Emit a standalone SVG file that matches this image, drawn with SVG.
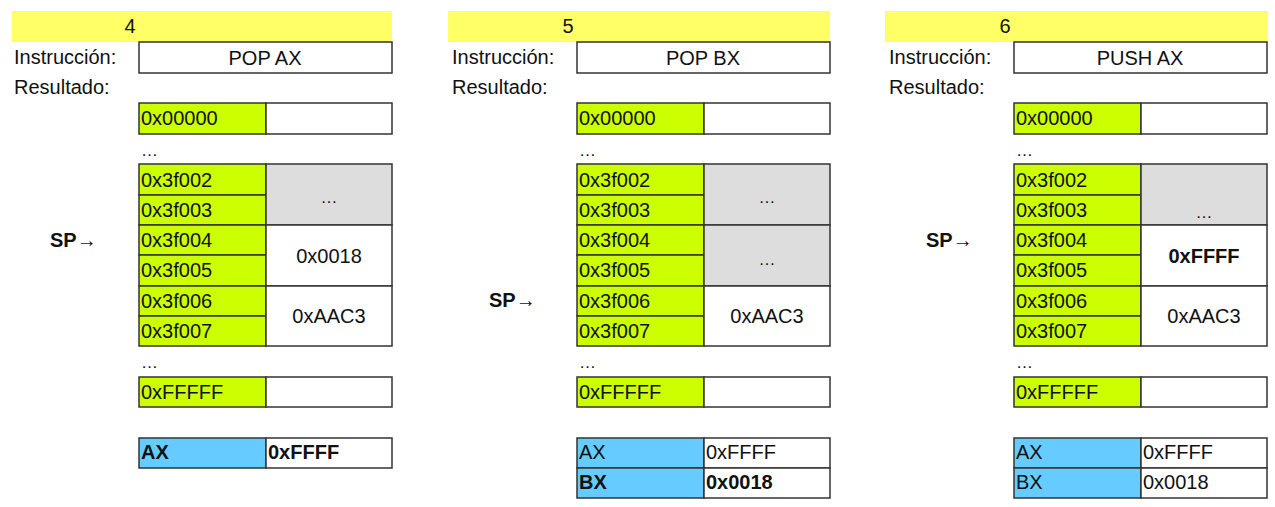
<svg xmlns="http://www.w3.org/2000/svg" width="1275" height="507" viewBox="0 0 1275 507">
<style>
text{font-family:"Liberation Sans",Arial,sans-serif;font-size:20px;fill:#111}
.b{font-weight:bold}
.m{text-anchor:middle}
.hd{fill:#ffff66}
.box{fill:#fff;stroke:#333;stroke-width:1.5}
.g{fill:#ccff00;stroke:#333;stroke-width:1.5}
.gr{fill:#dddddd;stroke:#333;stroke-width:1.5}
.bl{fill:#66ccff;stroke:#333;stroke-width:1.5}
.dots{font-size:17px}
</style>
<defs>
<g id="base">
<text x="14" y="64">Instrucción:</text>
<text x="14" y="94">Resultado:</text>
<rect class="box" x="139" y="42" width="253" height="31"/>
<rect class="g" x="139" y="103" width="127" height="31"/><rect class="box" x="266" y="103" width="126" height="31"/>
<text x="141" y="125">0x00000</text>
<text class="dots" x="141" y="156">…</text>
<rect class="g" x="139" y="164" width="127" height="31"/><text x="141" y="187">0x3f002</text>
<rect class="g" x="139" y="195" width="127" height="30"/><text x="141" y="217">0x3f003</text>
<rect class="g" x="139" y="225" width="127" height="30"/><text x="141" y="247">0x3f004</text>
<rect class="g" x="139" y="255" width="127" height="31"/><text x="141" y="277">0x3f005</text>
<rect class="g" x="139" y="286" width="127" height="30"/><text x="141" y="308">0x3f006</text>
<rect class="g" x="139" y="316" width="127" height="30"/><text x="141" y="338">0x3f007</text>
<text class="dots" x="141" y="368">…</text>
<rect class="g" x="139" y="377" width="127" height="30"/><rect class="box" x="266" y="377" width="126" height="30"/>
<text x="141" y="399">0xFFFFF</text>
</g>
</defs>

<g id="panel-4">
<rect class="hd" x="12" y="11" width="380" height="31"/>
<text class="m" x="130" y="33">4</text>
<use href="#base"/>
<text class="m" x="265" y="65">POP AX</text>
<g id="p4-sp"><text x="50" y="247"><tspan class="b">SP</tspan>→</text></g>
<g id="p4-c1"><rect class="gr" x="266" y="164" width="126" height="61"/><text class="m dots" x="329" y="203">…</text></g>
<g id="p4-c2"><rect class="box" x="266" y="225" width="126" height="61"/><text class="m" x="329" y="263">0x0018</text></g>
<g id="p4-c3"><rect class="box" x="266" y="286" width="126" height="60"/><text class="m" x="329" y="323">0xAAC3</text></g>
<g id="p4-ax"><rect class="bl" x="139" y="438" width="127" height="30"/><rect class="box" x="266" y="438" width="126" height="30"/>
<text class="b" x="141" y="459">AX</text><text class="b" x="268" y="459">0xFFFF</text></g>
</g>

<g id="panel-5" transform="translate(438,0)">
<rect class="hd" x="10" y="11" width="382" height="31"/>
<text class="m" x="130" y="33">5</text>
<use href="#base"/>
<text class="m" x="265" y="65">POP BX</text>
<g id="p5-sp"><text x="51" y="307"><tspan class="b">SP</tspan>→</text></g>
<g id="p5-c1"><rect class="gr" x="266" y="164" width="126" height="61"/><text class="m dots" x="329" y="203">…</text></g>
<g id="p5-c2"><rect class="gr" x="266" y="225" width="126" height="61"/><text class="m dots" x="329" y="265">…</text></g>
<g id="p5-c3"><rect class="box" x="266" y="286" width="126" height="60"/><text class="m" x="329" y="323">0xAAC3</text></g>
<g id="p5-ax"><rect class="bl" x="139" y="438" width="127" height="30"/><rect class="box" x="266" y="438" width="126" height="30"/>
<text x="141" y="459">AX</text><text x="268" y="459">0xFFFF</text></g>
<g id="p5-bx"><rect class="bl" x="139" y="468" width="127" height="30"/><rect class="box" x="266" y="468" width="126" height="30"/>
<text class="b" x="141" y="489">BX</text><text class="b" x="268" y="489">0x0018</text></g>
</g>

<g id="panel-6" transform="translate(875,0)">
<rect class="hd" x="10" y="11" width="383" height="31"/>
<text class="m" x="130" y="33">6</text>
<use href="#base"/>
<text class="m" x="265" y="65">PUSH AX</text>
<g id="p6-sp"><text x="51" y="247"><tspan class="b">SP</tspan>→</text></g>
<g id="p6-c1"><rect class="gr" x="266" y="164" width="126" height="61"/><text class="m dots" x="329" y="218">…</text></g>
<g id="p6-c2"><rect class="box" x="266" y="225" width="126" height="61"/><text class="m b" x="329" y="263">0xFFFF</text></g>
<g id="p6-c3"><rect class="box" x="266" y="286" width="126" height="60"/><text class="m" x="329" y="323">0xAAC3</text></g>
<g id="p6-ax"><rect class="bl" x="139" y="438" width="127" height="30"/><rect class="box" x="266" y="438" width="126" height="30"/>
<text x="141" y="459">AX</text><text x="268" y="459">0xFFFF</text></g>
<g id="p6-bx"><rect class="bl" x="139" y="468" width="127" height="30"/><rect class="box" x="266" y="468" width="126" height="30"/>
<text x="141" y="489">BX</text><text x="268" y="489">0x0018</text></g>
</g>
</svg>
